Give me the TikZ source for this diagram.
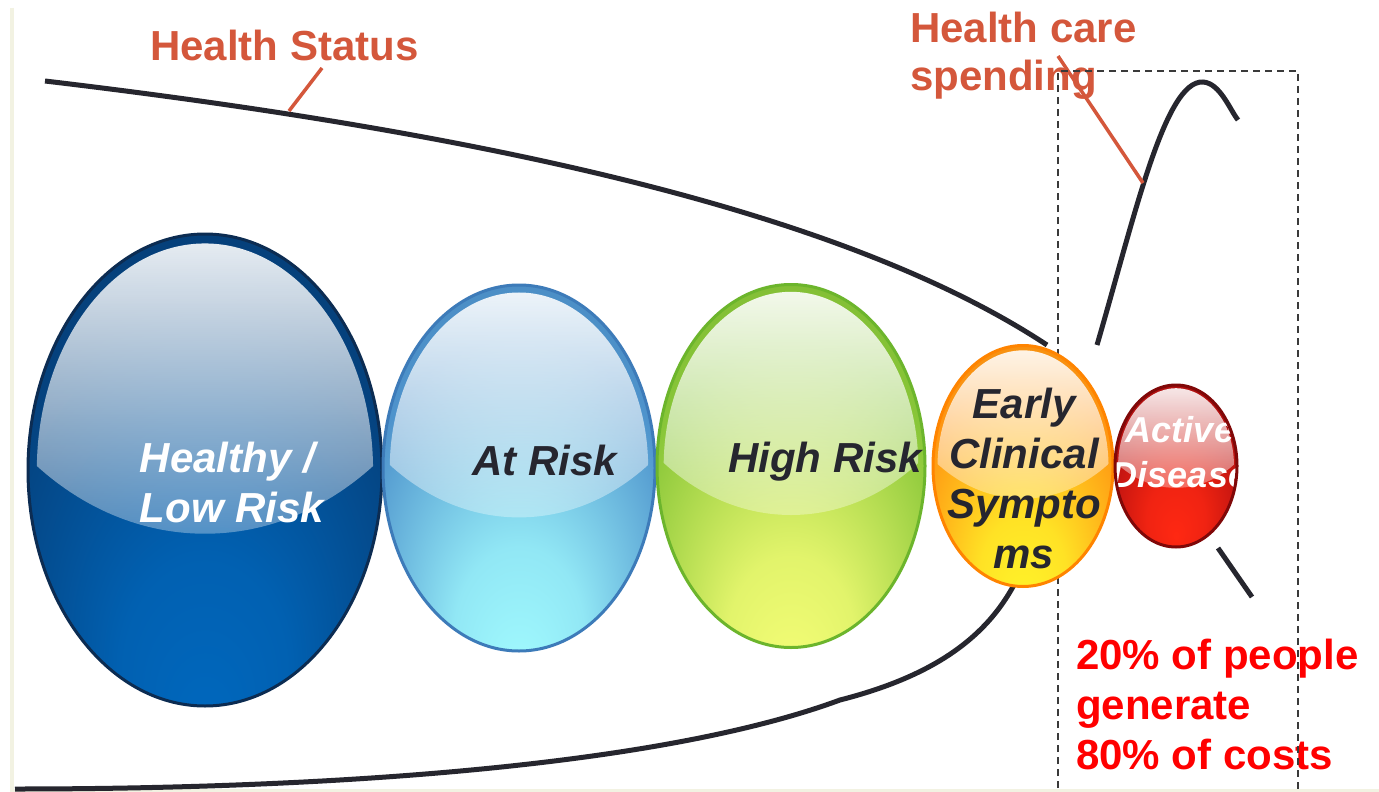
\documentclass[tikz,border=0pt]{standalone}
\usepackage{fontspec}
\setmainfont{Liberation Sans}
\usetikzlibrary{shapes.geometric,calc,fadings}

\definecolor{curve}{HTML}{26262E}
\definecolor{callout}{HTML}{D4573B}
\definecolor{costred}{HTML}{FF0000}
\definecolor{ink}{HTML}{26262F}
\definecolor{frame}{HTML}{3A3A3A}
\definecolor{cream}{HTML}{F2F2E2}
\definecolor{healthyIn}{HTML}{0068BE}
\definecolor{healthyOut}{HTML}{05427E}
\definecolor{healthyRim}{HTML}{0C2C52}
\definecolor{atriskIn}{HTML}{A2FCFF}
\definecolor{atriskOut}{HTML}{4E93CC}
\definecolor{atriskRim}{HTML}{3D7BB9}
\definecolor{highIn}{HTML}{F8FF78}
\definecolor{highOut}{HTML}{88C638}
\definecolor{highRim}{HTML}{6CB52C}
\definecolor{earlyIn}{HTML}{FFF52A}
\definecolor{earlyOut}{HTML}{FF9612}
\definecolor{earlyRim}{HTML}{FF8400}
\definecolor{activeIn}{HTML}{FF2812}
\definecolor{activeOut}{HTML}{B41010}
\definecolor{activeRim}{HTML}{800808}

% glossy egg: bright spot low in the egg, #2 = its vertical offset
\newcommand\eggshading[2]{%
  \pgfdeclareradialshading{#1shade}{\pgfpoint{0bp}{#2}}{color(0bp)=(#1In); color(12bp)=(#1In!80!#1Out); color(30bp)=(#1Out); color(50bp)=(#1Out!85!black)}}
\eggshading{healthy}{-28bp}
\eggshading{atrisk}{-30bp}
\eggshading{high}{-32bp}
\eggshading{early}{-30bp}
\eggshading{active}{-22bp}

\tikzfading[name=shine,top color=transparent!10,middle color=transparent!90,bottom color=transparent!100]

% white reflection on the upper part of an egg (used in path picture)
\newcommand\eggshine{%
  \begin{scope}
    \clip let \p0=(path picture bounding box.center),
      \p1=($(path picture bounding box.north east)-(\p0)$) in
      (\x0,{\y0+1.2*\y1}) ellipse ({1.6*\x1} and {1.47*\y1});
    \fill[white,path fading=shine] let \p0=(path picture bounding box.center),
      \p1=($(path picture bounding box.north east)-(\p0)$) in
      (\x0,\y0) ellipse ({0.95*\x1} and {0.96*\y1});
  \end{scope}}

\begin{document}
\begin{tikzpicture}[x=1pt,y=-1pt,
    egg/.style={ellipse,inner sep=0pt,line width=3pt,path picture={\eggshine}},
    eggtext/.style={font=\fontsize{42}{50}\selectfont\bfseries\itshape,text=ink,inner sep=0pt},
    caption/.style={font=\fontsize{42}{48}\selectfont\bfseries,inner sep=0pt,align=left},
    status/.style={draw=curve,line width=5pt},
    pointer/.style={draw=callout,line width=3.5pt},
    frame/.style={draw=frame,line width=1.5pt,dash pattern=on 7pt off 5pt}]
    \useasboundingbox (0,0) rectangle (1379,792);
    \fill[white] (0,0) rectangle (1379,792);
    \draw[cream,line width=4pt] (12,8) -- (12,792);
    \draw[cream,line width=3pt] (12,790.5) -- (1379,790.5);

    % health status and spending curves
    \draw[status] (45,81) .. controls (500,135) and (850,215) .. (1047,345);
    \draw[status] (15,789) .. controls (300,789) and (650,770) .. (840,700) .. controls (930,677) and (985,640) .. (1015,583);
    \draw[status] (1097,345) .. controls (1135,215) and (1165,80) .. (1203,82) .. controls (1220,83) and (1230,110) .. (1238,120);
    \draw[status] (1218,548) -- (1252,597);

    \node[caption,text=callout,anchor=base west] (hstatus) at (150,60) {Health Status};
    \node[caption,text=callout,anchor=north west] (spending) at (910,12) {Health care\\spending};
    \node[caption,text=costred,anchor=north west,font=\fontsize{42}{50}\selectfont\bfseries] (costs) at (1076,639) {20\% of people\\generate\\80\% of costs};

    \coordinate (statusfoot) at (322,68);
    \coordinate (statustip) at (289,111);
    \coordinate (spendfoot) at (1058,56);
    \coordinate (spendtip) at (1143,183);
    \draw[pointer] (statusfoot) -- (statustip);
    \draw[pointer] (spendfoot) -- (spendtip);

    \draw[frame] (1058,800) |- (1298,71) -- (1298,800);

    % the eggs
    \node[egg,shading=healthyshade,draw=healthyRim,minimum width=354pt,minimum height=472pt] (healthy) at (205,470) {};
    \node[egg,shading=atriskshade,draw=atriskRim,minimum width=272pt,minimum height=366pt] (atrisk) at (519,468) {};
    \node[egg,shading=highshade,draw=highRim,minimum width=268pt,minimum height=363pt] (highrisk) at (791,466) {};
    \node[egg,shading=earlyshade,draw=earlyRim,minimum width=180pt,minimum height=241pt] (early) at (1023,466) {};
    \node[egg,shading=activeshade,draw=activeRim,minimum width=122pt,minimum height=162pt,
      path picture={\eggshine
        \node[eggtext,text=white,align=center,font=\fontsize{36}{45}\selectfont\bfseries\itshape] (activetext)
          at ([xshift=4pt,yshift=14pt]path picture bounding box.center) {Active\\Disease};}] (active) at (1176,466) {};

    \node[eggtext,text=white,align=left] (healthytext) at (232,482) {Healthy /\\Low Risk};
    \node[eggtext,anchor=base] (atrisktext) at (545,475) {At Risk};
    \node[eggtext,anchor=base] (hightext) at (825,472) {High Risk};
    \node[eggtext,align=center] (earlytext) at (1024,478) {Early\\Clinical\\Sympto\\ms};
\end{tikzpicture}
\end{document}
